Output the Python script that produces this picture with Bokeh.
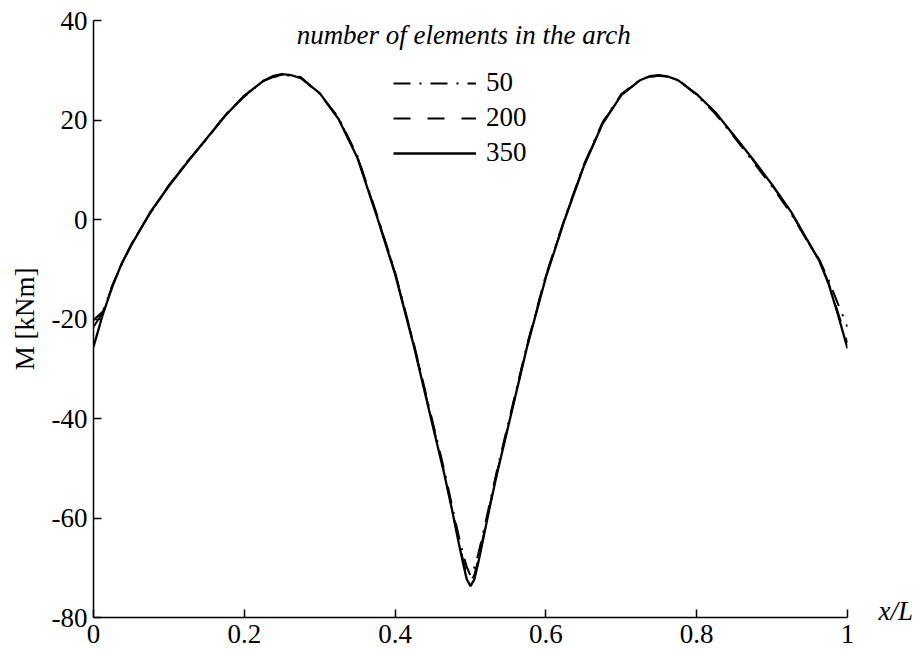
from bokeh.plotting import figure
from bokeh.models import Range1d, FixedTicker, Legend, LegendItem, Label, LinearAxis
from bokeh.embed import file_html
from bokeh.resources import INLINE

# Bending moment along the arch for three mesh refinements
x_pos = [0, 0.0125, 0.025, 0.0375, 0.05,
         0.075, 0.1, 0.125, 0.15, 0.175,
         0.2, 0.225, 0.2375, 0.25, 0.2625,
         0.275, 0.3, 0.325, 0.35, 0.375,
         0.4, 0.425, 0.45, 0.465, 0.475,
         0.485, 0.49, 0.495, 0.5, 0.505,
         0.51, 0.515, 0.525, 0.535, 0.55,
         0.575, 0.6, 0.625, 0.65, 0.675,
         0.7, 0.725, 0.7375, 0.75, 0.7625,
         0.775, 0.8, 0.825, 0.85, 0.875,
         0.9, 0.925, 0.95, 0.9625, 0.975,
         0.9875, 1.0]

m_50 = [-20.2, -18.5, -13.2, -9.0, -5.0,
        1.2, 6.9, 11.8, 16.1, 21.1,
        24.7, 27.9, 28.6, 29.0, 28.9,
        28.6, 25.2, 20.5, 12.8, 1.4,
        -10.6, -25.0, -40.8, -50.2, -57.2,
        -64.0, -67.2, -69.8, -71.6, -70.0,
        -67.4, -64.2, -57.4, -50.5, -41.0,
        -25.2, -11.2, 0.3, 10.9, 19.5,
        25.2, 28.1, 28.7, 28.9, 28.6,
        28.2, 25.0, 21.2, 16.5, 11.6,
        6.6, 1.2, -5.2, -8.0, -12.2,
        -17.0, -21.6]

m_200 = [-21.6, -18.6, -13.4, -8.9, -5.1,
         1.3, 6.8, 11.7, 16.2, 21.0,
         24.8, 27.8, 28.7, 29.1, 29.0,
         28.5, 25.3, 20.3, 12.6, 1.2,
         -10.8, -25.3, -41.2, -50.7, -57.7,
         -65.0, -68.4, -71.4, -72.8, -71.5,
         -68.6, -65.1, -57.9, -51.0, -41.4,
         -25.5, -11.4, 0.1, 10.7, 19.3,
         25.1, 28.0, 28.7, 28.9, 28.7,
         28.1, 25.1, 21.4, 16.7, 11.9,
         6.9, 1.5, -5.1, -8.2, -12.8,
         -18.8, -24.8]

m_350 = [-25.6, -19.0, -13.5, -8.8, -5.2,
         1.4, 6.7, 11.6, 16.3, 20.9,
         24.9, 27.8, 28.8, 29.2, 29.0,
         28.4, 25.4, 20.2, 12.4, 1.0,
         -11.0, -25.5, -41.5, -51.0, -58.0,
         -65.5, -69.0, -72.3, -73.7, -72.4,
         -69.2, -65.6, -58.2, -51.2, -41.6,
         -25.6, -11.6, 0.0, 10.6, 19.2,
         25.0, 28.0, 28.8, 29.0, 28.7,
         28.0, 25.2, 21.5, 16.8, 12.0,
         7.0, 1.6, -5.0, -8.3, -13.0,
         -19.2, -25.9]

series_labels = ["50", "200", "350"]

x_ticks = [0, 0.2, 0.4, 0.6, 0.8, 1]
x_tick_labels = ["0", "0.2", "0.4", "0.6", "0.8", "1"]
y_ticks = [-80, -60, -40, -20, 0, 20, 40]
y_tick_labels = ["-80", "-60", "-40", "-20", "0", "20", "40"]

SERIF = "Liberation Serif"
FS = "27px"
INK = "black"

p = figure(width=919, height=653, output_backend="svg", toolbar_location=None,
           x_range=Range1d(0, 1), y_range=Range1d(-80, 40),
           min_border_left=93, min_border_right=72,
           min_border_top=20, min_border_bottom=36)
p.outline_line_color = None
p.grid.visible = False
p.background_fill_color = "white"
p.border_fill_color = "white"

x_axis = p.below[0]
y_axis = p.left[0]

for ax in (x_axis, y_axis):
    ax.axis_line_color = INK
    ax.axis_line_width = 1.5
    ax.major_tick_line_color = INK
    ax.major_tick_line_width = 1.5
    ax.major_tick_in = 8
    ax.major_tick_out = 0
    ax.minor_tick_in = 0
    ax.minor_tick_out = 0
    ax.major_label_text_font = SERIF
    ax.major_label_text_font_size = FS
    ax.major_label_text_color = INK

x_axis.ticker = FixedTicker(ticks=x_ticks)
x_axis.major_label_overrides = dict(zip(x_ticks, x_tick_labels))
x_axis.major_label_standoff = 7

y_axis.ticker = FixedTicker(ticks=y_ticks)
y_axis.major_label_overrides = dict(zip(y_ticks, y_tick_labels))
y_axis.major_label_standoff = 6
y_axis.axis_label = "M [kNm]"
y_axis.axis_label_text_font = SERIF
y_axis.axis_label_text_font_size = FS
y_axis.axis_label_text_font_style = "normal"
y_axis.axis_label_text_color = INK
y_axis.axis_label_standoff = 9

# "x/L" caption at the right end of the abscissa, carried by a bare axis
XL_AT = -78.7
xl_axis = LinearAxis(ticker=FixedTicker(ticks=[XL_AT]),
                     major_label_overrides={XL_AT: "x/L"},
                     axis_line_color=None, major_tick_line_color=None,
                     minor_tick_line_color=None,
                     major_label_standoff=25,
                     major_label_text_font=SERIF,
                     major_label_text_font_size=FS,
                     major_label_text_font_style="italic",
                     major_label_text_color=INK)
p.add_layout(xl_axis, "right")

r50 = p.line(x_pos, m_50, line_color=INK, line_width=2, line_dash="17 9 2 9")
r200 = p.line(x_pos, m_200, line_color=INK, line_width=2, line_dash="17 17")
r350 = p.line(x_pos, m_350, line_color=INK, line_width=2.3)

legend = Legend(items=[LegendItem(label=series_labels[0], renderers=[r50]),
                       LegendItem(label=series_labels[1], renderers=[r200]),
                       LegendItem(label=series_labels[2], renderers=[r350])],
                location=(300, 449))
legend.padding = 0
legend.margin = 0
legend.spacing = 4
legend.glyph_width = 83
legend.glyph_height = 30
legend.label_height = 30
legend.label_standoff = 10
legend.label_text_font = SERIF
legend.label_text_font_size = FS
legend.label_text_color = INK
legend.border_line_alpha = 0
legend.background_fill_alpha = 0
p.add_layout(legend)

# legend heading
p.add_layout(Label(x=0.491, y=37.0, text="number of elements in the arch",
                   text_font=SERIF, text_font_size="27px", text_font_style="italic",
                   text_color=INK, text_align="center", text_baseline="middle"))

open("out.html", "w").write(file_html(p, INLINE))
